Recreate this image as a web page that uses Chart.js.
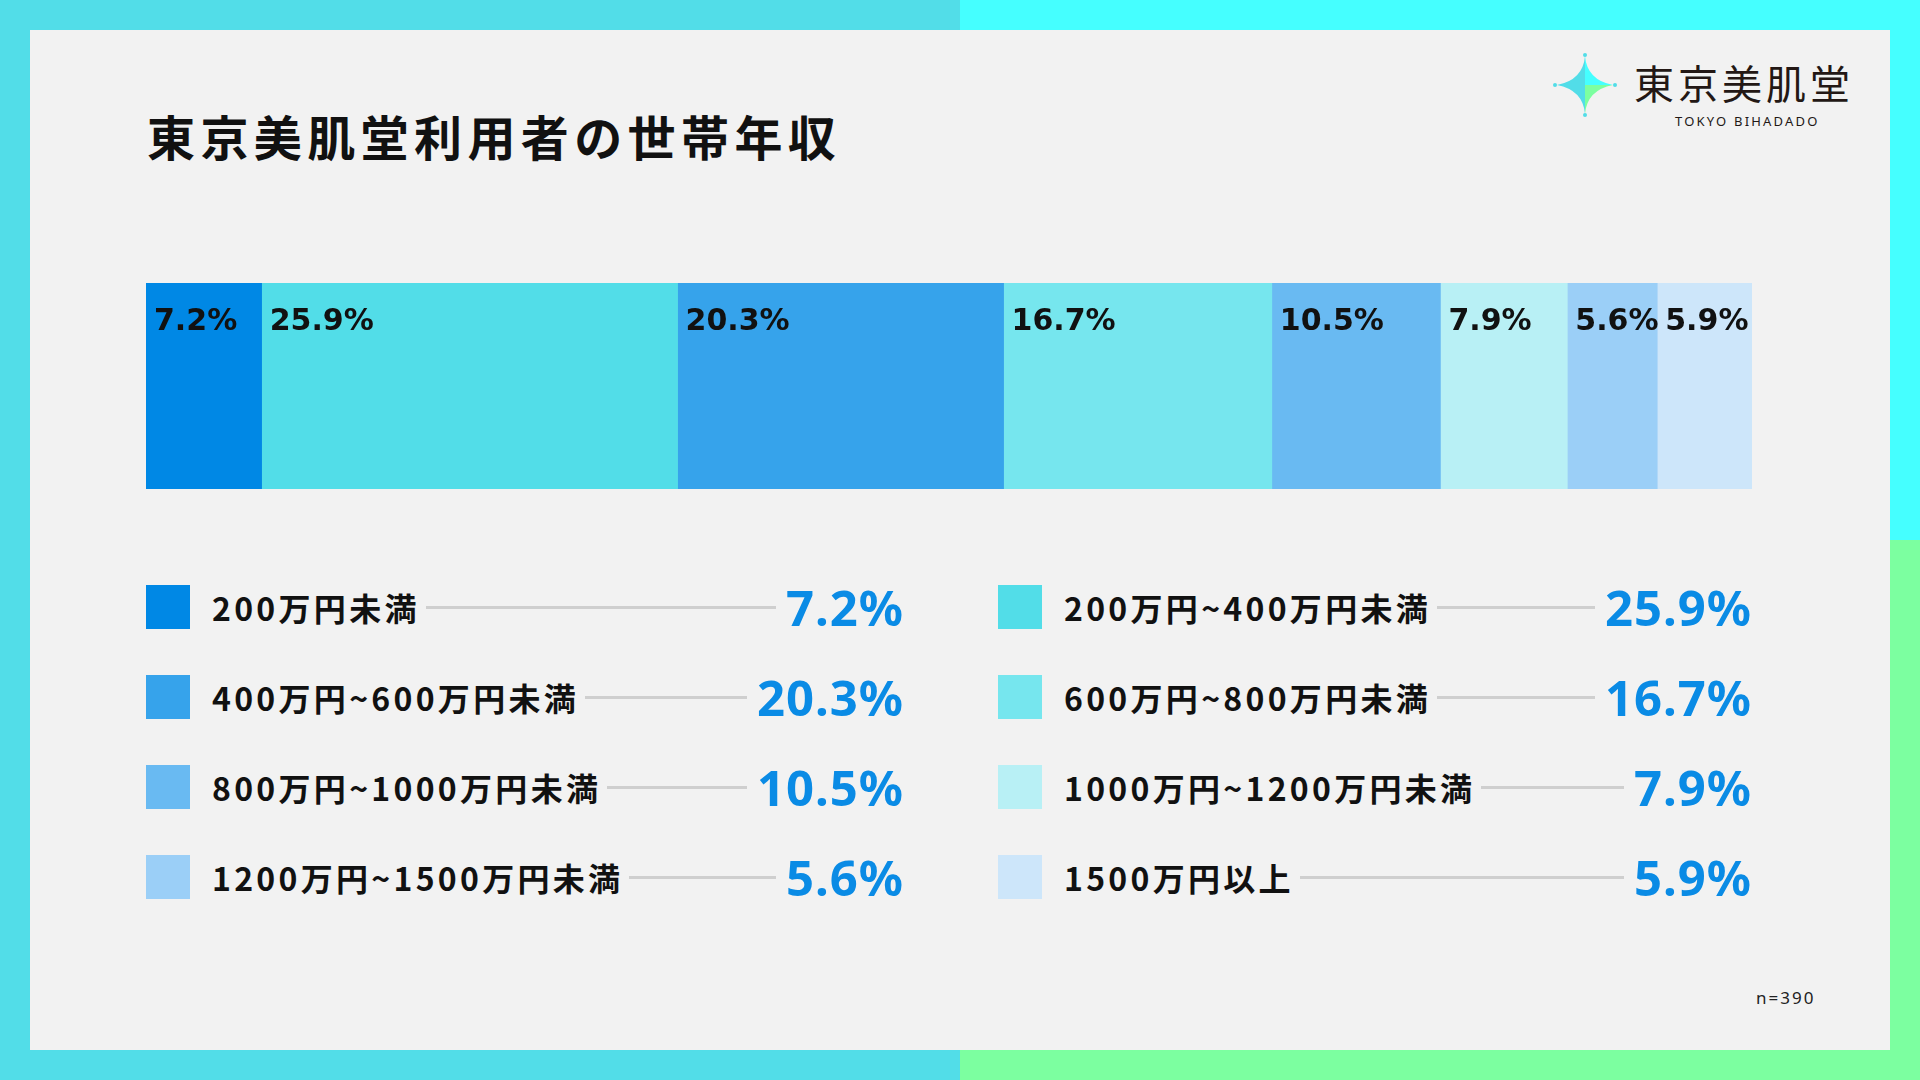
<!DOCTYPE html>
<html lang="ja">
<head>
<meta charset="utf-8">
<script src="https://cdn.jsdelivr.net/npm/chart.js@4"></script>
<style>
  html, body { margin: 0; padding: 0; }
  body {
    width: 1920px; height: 1080px; position: relative; overflow: hidden;
    font-family: "Noto Sans CJK JP", "Noto Sans", sans-serif;
    background:
      linear-gradient(#52DDE8, #52DDE8) 0 0 / 960px 540px no-repeat,
      linear-gradient(#45FFFF, #45FFFF) 960px 0 / 960px 540px no-repeat,
      linear-gradient(#52DDE8, #52DDE8) 0 540px / 960px 540px no-repeat,
      linear-gradient(#7CFFA0, #7CFFA0) 960px 540px / 960px 540px no-repeat;
  }
  #panel { position: absolute; left: 30px; top: 30px; width: 1860px; height: 1020px; background: #F2F2F2; }
  #title {
    position: absolute; left: 147px; top: 103px; margin: 0;
    font-size: 48px; font-weight: 700; letter-spacing: 5.4px; color: #111; line-height: 64px;
  }
  #logo { position: absolute; left: 1553px; top: 52px; }
  #logoText {
    position: absolute; left: 1634px; top: 56px; font-size: 40px; font-weight: 400;
    letter-spacing: 4px; color: #231815; line-height: 52px;
  }
  #logoSub {
    position: absolute; left: 1675px; top: 112px; font-family: "Noto Sans", sans-serif;
    font-size: 13px; letter-spacing: 2.2px; color: #231815;
  }
  #barBox { position: absolute; left: 146px; top: 283px; width: 1606px; height: 206px; }
  .legend { position: absolute; width: 758px; }
  .row { display: flex; align-items: center; height: 90px; }
  .sw { width: 44px; height: 44px; flex: none; }
  .lab { font-size: 32px; font-weight: 700; color: #111; margin-left: 22px; white-space: nowrap; letter-spacing: 3.3px; }
  .line { flex: 1; height: 3px; background: #CFCFCF; margin: 0 10px 0 6px; }
  .val { font-family: "Noto Sans", sans-serif; font-size: 49px; font-weight: 700; color: #0A8BE5; white-space: nowrap; letter-spacing: 1px; }
  #note { position: absolute; left: 1756px; top: 986px; font-family: "Noto Sans", sans-serif; font-size: 17px; letter-spacing: 2px; color: #222; }
</style>
</head>
<body>
<div id="panel"></div>
<h1 id="title">東京美肌堂利用者の世帯年収</h1>

<svg id="logo" width="64" height="66" viewBox="0 0 64 66">
  <path d="M32 4 Q34 28 60 33 L32 33 Z" fill="#45FFFF"/>
  <path d="M32 4 Q30 28 4 33 L32 33 Z" fill="#52DDE8"/>
  <path d="M4 33 Q30 38 32 62 L32 33 Z" fill="#52DDE8"/>
  <path d="M60 33 Q34 38 32 62 L32 33 Z" fill="#7CFFA0"/>
  <circle cx="32" cy="3" r="2" fill="#52DDE8"/>
  <circle cx="32" cy="63" r="2" fill="#52DDE8"/>
  <circle cx="2" cy="33" r="2" fill="#52DDE8"/>
  <circle cx="62" cy="33" r="2" fill="#52DDE8"/>
</svg>
<div id="logoText">東京美肌堂</div>
<div id="logoSub">TOKYO BIHADADO</div>

<div id="barBox"><canvas id="bar"></canvas></div>

<div class="legend" id="legLeft" style="left:146px; top:562px;"></div>
<div class="legend" id="legRight" style="left:998px; top:562px; width:754px;"></div>

<div id="note">n=390</div>

<script>
const categories = [
  "200万円未満",
  "200万円~400万円未満",
  "400万円~600万円未満",
  "600万円~800万円未満",
  "800万円~1000万円未満",
  "1000万円~1200万円未満",
  "1200万円~1500万円未満",
  "1500万円以上"
];
const shares = [7.2, 25.9, 20.3, 16.7, 10.5, 7.9, 5.6, 5.9];
const colors = ["#0088E5", "#52DDE8", "#36A3EB", "#76E6EE", "#69BAF2", "#B8F0F5", "#9BCFF7", "#CDE6FA"];

// legend: left column takes even indices, right column odd
const legLeft = document.getElementById("legLeft");
const legRight = document.getElementById("legRight");
categories.forEach((name, i) => {
  const row = document.createElement("div");
  row.className = "row";
  row.innerHTML =
    '<div class="sw" style="background:' + colors[i] + '"></div>' +
    '<div class="lab">' + name + '</div>' +
    '<div class="line"></div>' +
    '<div class="val">' + shares[i].toFixed(1) + '%</div>';
  (i % 2 === 0 ? legLeft : legRight).appendChild(row);
});

// percentage labels drawn in the top-left corner of each segment
const segmentLabels = {
  id: "segmentLabels",
  afterDatasetsDraw(chart) {
    const ctx = chart.ctx;
    ctx.save();
    ctx.font = "700 30px 'DejaVu Sans', sans-serif";
    ctx.fillStyle = "#111";
    ctx.textBaseline = "middle";
    chart.data.datasets.forEach((ds, i) => {
      const bar = chart.getDatasetMeta(i).data[0];
      const left = Math.min(bar.x, bar.base);
      const top = bar.y - bar.height / 2;
      ctx.fillText(ds.data[0].toFixed(1) + "%", left + 8, top + 39);
    });
    ctx.restore();
  }
};

new Chart(document.getElementById("bar"), {
  type: "bar",
  data: {
    labels: ["世帯年収"],
    datasets: categories.map((name, i) => ({
      label: name,
      data: [shares[i]],
      backgroundColor: colors[i],
      borderWidth: 0,
      barPercentage: 1,
      categoryPercentage: 1
    }))
  },
  options: {
    indexAxis: "y",
    responsive: true,
    maintainAspectRatio: false,
    animation: false,
    layout: { padding: 0 },
    plugins: { legend: { display: false }, tooltip: { enabled: false } },
    scales: {
      x: { stacked: true, min: 0, max: 100, display: false },
      y: { stacked: true, display: false }
    }
  },
  plugins: [segmentLabels]
});
</script>
</body>
</html>
